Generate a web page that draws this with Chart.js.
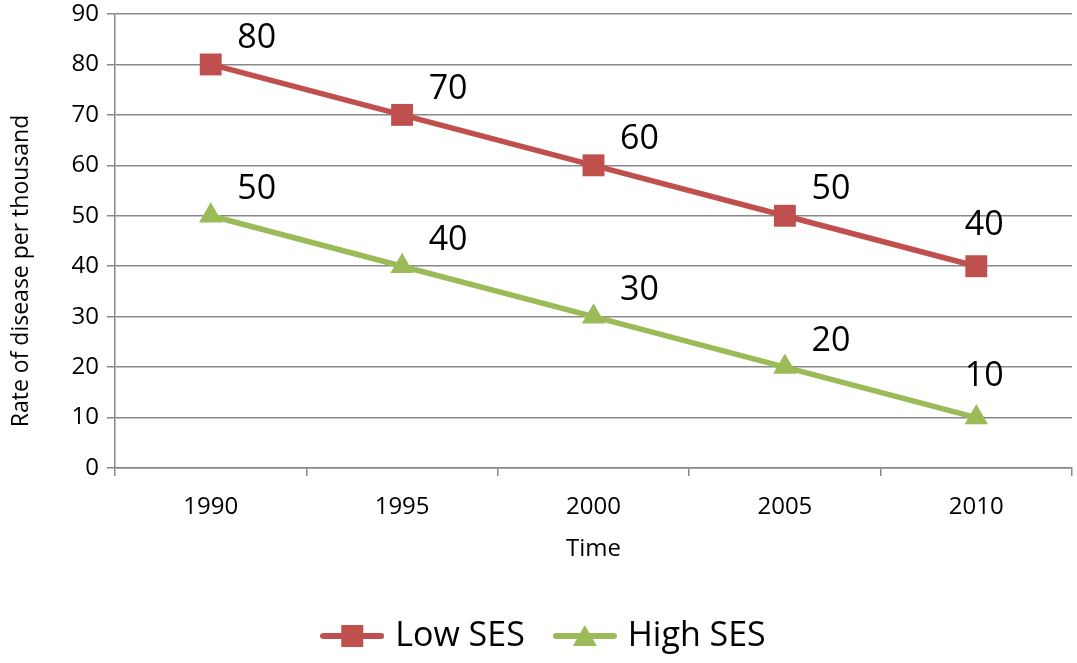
<!DOCTYPE html>
<html>
<head>
<meta charset="utf-8">
<script src="https://cdn.jsdelivr.net/npm/chart.js@4.4.1/dist/chart.umd.min.js"></script>
<style>
  html, body { margin: 0; padding: 0; background: #fff; }
  #wrap { width: 1077px; height: 663px; }
</style>
</head>
<body>
<div id="wrap"><canvas id="c" width="1077" height="663"></canvas></div>
<script>
// Disease rate per thousand by socioeconomic status
const years = ['1990', '1995', '2000', '2005', '2010'];
const lowSES = [80, 70, 60, 50, 40];
const highSES = [50, 40, 30, 20, 10];
const seriesNames = ['Low SES', 'High SES'];
const yTitle = 'Rate of disease per thousand';
const xTitle = 'Time';

const RED = '#C0504D';
const GREEN = '#9BBB59';
const GRID = '#888888';
const FONT = '"Open Sans", "DejaVu Sans", sans-serif';

Chart.defaults.font.family = FONT;
Chart.defaults.color = '#000';

// Legend swatch: a short line with the series marker in its middle
function swatch(color, shape) {
  const c = document.createElement('canvas');
  c.width = 64; c.height = 28;
  const g = c.getContext('2d');
  g.strokeStyle = color; g.lineWidth = 6; g.lineCap = 'round';
  g.beginPath(); g.moveTo(3, 14); g.lineTo(61, 14); g.stroke();
  g.fillStyle = color;
  if (shape === 'rect') {
    g.fillRect(21, 3, 22, 22);
  } else {
    g.beginPath(); g.moveTo(32, 3); g.lineTo(44, 24); g.lineTo(20, 24); g.closePath(); g.fill();
  }
  return c;
}
const swatches = [swatch(RED, 'rect'), swatch(GREEN, 'triangle')];

// Value labels above and to the right of each point
const valueLabels = {
  id: 'valueLabels',
  afterDatasetsDraw(chart) {
    const ctx = chart.ctx;
    ctx.save();
    ctx.font = '34px ' + FONT;
    ctx.fillStyle = '#000';
    ctx.textAlign = 'center';
    ctx.textBaseline = 'middle';
    chart.data.datasets.forEach((ds, i) => {
      const meta = chart.getDatasetMeta(i);
      const n = meta.data.length;
      meta.data.forEach((pt, j) => {
        const last = j === n - 1;
        const dx = last ? 8 : 46;
        const dy = last ? -41 : -26;
        ctx.fillText(String(ds.data[j]), pt.x + dx, pt.y + dy);
      });
    });
    ctx.restore();
  }
};

// Vertical title for the value axis
const yAxisTitle = {
  id: 'yAxisTitle',
  afterDraw(chart) {
    const ctx = chart.ctx;
    const a = chart.chartArea;
    ctx.save();
    ctx.font = '23px ' + FONT;
    ctx.fillStyle = '#000';
    ctx.textAlign = 'center';
    ctx.textBaseline = 'middle';
    ctx.translate(21, (a.top + a.bottom) / 2 + 30);
    ctx.rotate(-Math.PI / 2);
    ctx.fillText(yTitle, 0, 0);
    ctx.restore();
  }
};

new Chart(document.getElementById('c'), {
  type: 'line',
  data: {
    labels: years,
    datasets: [
      {
        label: seriesNames[0], data: lowSES,
        borderColor: RED, backgroundColor: RED, borderWidth: 5.5,
        pointStyle: 'rect', pointRadius: 15.5, pointHoverRadius: 15.5,
        pointBorderWidth: 0, tension: 0, clip: false
      },
      {
        label: seriesNames[1], data: highSES,
        borderColor: GREEN, backgroundColor: GREEN, borderWidth: 5.5,
        pointStyle: 'triangle', pointRadius: 13.5, pointHoverRadius: 13.5,
        pointBorderWidth: 0, tension: 0, clip: false
      }
    ]
  },
  options: {
    responsive: false,
    animation: false,
    events: [],
    layout: { autoPadding: false, padding: { left: 20, right: 5, top: 14, bottom: 0 } },
    scales: {
      x: {
        type: 'category',
        offset: true,
        grid: { offset: true, drawOnChartArea: false, color: GRID, lineWidth: 1.5, tickLength: 8, tickWidth: 1.5 },
        border: { color: GRID, width: 1.5 },
        ticks: { font: { size: 24 }, color: '#000', padding: 17, maxRotation: 0 },
        title: { display: true, text: xTitle, font: { size: 24 }, color: '#000', padding: { top: 0, bottom: 21 } },
        afterFit(scale) {
          scale.paddingLeft = 0;
          scale.paddingRight = 0;
          scale.height = 117;
        }
      },
      y: {
        min: 0, max: 90,
        grid: { color: GRID, lineWidth: 1.5, tickLength: 8 },
        border: { color: GRID, width: 1.5 },
        ticks: { stepSize: 10, font: { size: 24 }, color: '#000', padding: 8 },
        afterFit(scale) {
          scale.width = 95;
          scale.paddingTop = 0;
          scale.paddingBottom = 0;
        }
      }
    },
    plugins: {
      tooltip: { enabled: false },
      legend: {
        position: 'bottom',
        labels: {
          usePointStyle: true,
          pointStyleWidth: 52,
          font: { size: 34 },
          color: '#000',
          padding: 34,
          generateLabels(chart) {
            return chart.data.datasets.map((ds, i) => ({
              text: ds.label,
              pointStyle: swatches[i],
              fillStyle: ds.borderColor,
              strokeStyle: ds.borderColor,
              fontColor: '#000',
              lineWidth: 0,
              hidden: false,
              datasetIndex: i
            }));
          }
        }
      }
    }
  },
  plugins: [valueLabels, yAxisTitle]
});
</script>
</body>
</html>
